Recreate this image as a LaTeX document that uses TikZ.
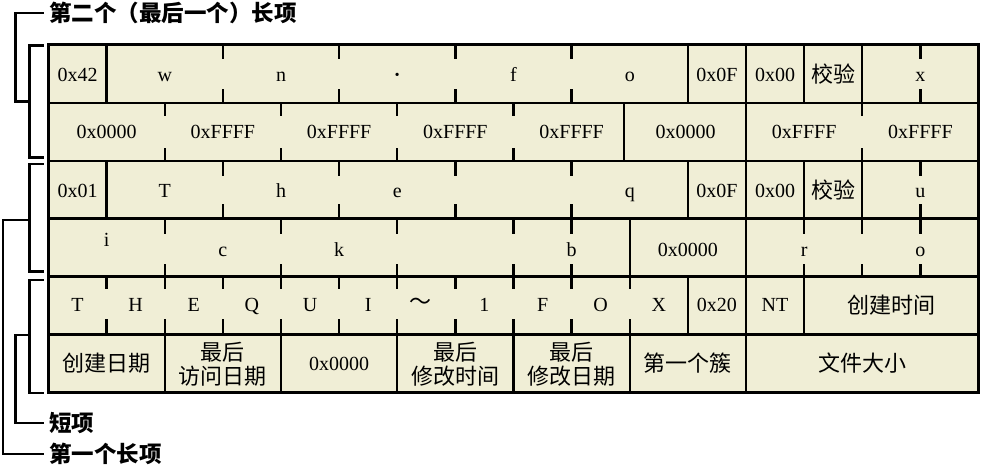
\documentclass[tikz,border=0pt]{standalone}
\usepackage{fontspec}
\usetikzlibrary{calc}
\setmainfont{Liberation Serif}
\newfontfamily\cjk{Noto Sans CJK SC}
\definecolor{cellfill}{RGB}{240,238,214}
\tikzset{
  lat/.style={font=\fontsize{20}{20}\selectfont, anchor=base, inner sep=0pt},
  zh/.style={font=\cjk\fontsize{22}{23.5}\selectfont, align=center, inner sep=0pt},
  lbl/.style={font=\cjk\bfseries\fontsize{22.5}{24}\selectfont, anchor=west, inner sep=0pt},
  gridline/.style={line width=2.4pt},
  border/.style={line width=3pt},
  brk/.style={line width=2.8pt, line cap=rect},
}
\newcommand{\bx}[1]{48.5+#1*58.125}
\begin{document}
\begin{tikzpicture}[x=1pt,y=-1pt]
\useasboundingbox (0,0) rectangle (981,470);
% background of table
\fill[cellfill] (48.5,45) rectangle (978.5,392.4);
% horizontal row lines
\foreach \yy in {102.9,160.8,218.7,276.6,334.5}
  \draw[gridline] (48.5,\yy) -- (978.5,\yy);
% ---- row 1 (45 - 102.9)
\foreach \b in {1,11,12,13,14} \draw[gridline] ({\bx{\b}},45) -- ({\bx{\b}},102.9);
\foreach \b in {3,5,7,9,15} {\draw[gridline] ({\bx{\b}},45) -- ++(0,14); \draw[gridline] ({\bx{\b}},102.9) -- ++(0,-14);}
% ---- row 2 (102.9 - 160.8)
\draw[gridline] (624,102.9) -- (624,160.8);
\foreach \b in {12} \draw[gridline] ({\bx{\b}},102.9) -- ({\bx{\b}},160.8);
\foreach \b in {2,4,6,8,14} {\draw[gridline] ({\bx{\b}},102.9) -- ++(0,13); \draw[gridline] ({\bx{\b}},160.8) -- ++(0,-13);}
% ---- row 3 (160.8 - 218.7)
\foreach \b in {1,11,12,13,14} \draw[gridline] ({\bx{\b}},160.8) -- ({\bx{\b}},218.7);
\foreach \b in {3,5,7,9,15} {\draw[gridline] ({\bx{\b}},160.8) -- ++(0,15); \draw[gridline] ({\bx{\b}},218.7) -- ++(0,-15);}
% ---- row 4 (218.7 - 276.6)
\foreach \b in {10,12} \draw[gridline] ({\bx{\b}},218.7) -- ({\bx{\b}},276.6);
\foreach \b in {2,4,6,8,9,13,14,15} {\draw[gridline] ({\bx{\b}},218.7) -- ++(0,15); \draw[gridline] ({\bx{\b}},276.6) -- ++(0,-13);}
% ---- row 5 (276.6 - 334.5)
\foreach \b in {11,12,13} \draw[gridline] ({\bx{\b}},276.6) -- ({\bx{\b}},334.5);
\foreach \b in {1,...,10} {\draw[gridline] ({\bx{\b}},276.6) -- ++(0,12); \draw[gridline] ({\bx{\b}},334.5) -- ++(0,-16);}
% ---- row 6 (334.5 - 392.4)
\foreach \b in {2,4,6,8,10,12} \draw[gridline] ({\bx{\b}},334.5) -- ({\bx{\b}},392.4);
% border
\draw[border] (48.5,45) rectangle (978.5,392.4);

% ---- texts row 1
\foreach \c/\t [count=\i] in {0.5/0x42, 2/w, 4/n, 8/f, 10/o, 11.5/0x0F, 12.5/0x00, 15/x}
  \node[lat, name=ra\i] at ({\bx{\c}},82) {\t};
\node[lat] (radot) at ({\bx{6}},82) {\textbf{·}};
\node[zh] (raz) at ({\bx{13.5}},74) {校验};
% ---- row 2
\foreach \c/\t [count=\i] in {1/0x0000, 3/0xFFFF, 5/0xFFFF, 7/0xFFFF, 9/0xFFFF, 13/0xFFFF, 15/0xFFFF}
  \node[lat, name=rb\i] at ({\bx{\c}},139) {\t};
\node[lat] (rbc) at (685.5,139) {0x0000};
% ---- row 3
\foreach \c/\t [count=\i] in {0.5/0x01, 2/T, 4/h, 6/e, 10/q, 11.5/0x0F, 12.5/0x00, 15/u}
  \node[lat, name=rc\i] at ({\bx{\c}},198) {\t};
\node[zh] (rcz) at ({\bx{13.5}},190) {校验};
% ---- row 4
\node[lat] (rd0) at ({\bx{1}},246) {i};
\foreach \c/\t [count=\i] in {3/c, 5/k, 9/b, 11/0x0000, 13/r, 15/o}
  \node[lat, name=rd\i] at ({\bx{\c}},256) {\t};
% ---- row 5
\foreach \c/\t [count=\i] in {0.5/T, 1.5/H, 2.5/E, 3.5/Q, 4.5/U, 5.5/I, 7.5/1, 8.5/F, 9.5/O, 10.5/X, 11.5/0x20, 12.5/NT}
  \node[lat, name=re\i] at ({\bx{\c}},311) {\t};
\node[zh] (ret) at ({\bx{6.4}},304) {～};
\node[zh] (rez) at ({\bx{14.5}},305) {创建时间};
% ---- row 6
\node[zh] (rf1) at ({\bx{1}},363) {创建日期};
\node[zh] (rf2) at ({\bx{3}},364.5) {最后\\访问日期};
\node[lat] (rf3) at ({\bx{5}},370) {0x0000};
\node[zh] (rf4) at ({\bx{7}},364.5) {最后\\修改时间};
\node[zh] (rf5) at ({\bx{9}},364.5) {最后\\修改日期};
\node[zh] (rf6) at ({\bx{11}},363) {第一个簇};
\node[zh] (rf7) at ({\bx{14}},363) {文件大小};

% ---- labels
\node[lbl] (lsecond) at (49,13) {第二个（最后一个）长项};
\node[lbl] (lshort) at (49,423) {短项};
\node[lbl] (lfirst) at (49,454) {第一个长项};

% ---- brackets
\coordinate (b2t) at (43,45.7);  \coordinate (b2b) at (43,157.7);
\coordinate (b1t) at (43,164);   \coordinate (b1b) at (43,271.7);
\coordinate (b3t) at (43,280);   \coordinate (b3b) at (43,393);
\draw[brk] (b2t) -- (29.5,45.7) -- (29.5,157.7) -- (b2b);
\draw[brk] (b1t) -- (29.5,164) -- (29.5,271.7) -- (b1b);
\draw[brk] (b3t) -- (29.5,280) -- (29.5,393) -- (b3b);
\coordinate (m2) at (29.5,101.7);
\coordinate (m1) at (29.5,220);
\coordinate (m3) at (29.5,335);
\draw[brk] ($(lsecond.west)+(-6,0)$) -- (15.3,13) -- (15.3,101.7) -- (m2);
\draw[brk] (m1) -- (3,220) -- (3,454) -- ($(lfirst.west)+(-6,0)$);
\draw[brk] (m3) -- (15.3,335) -- (15.3,423) -- ($(lshort.west)+(-6,0)$);
\end{tikzpicture}
\end{document}
